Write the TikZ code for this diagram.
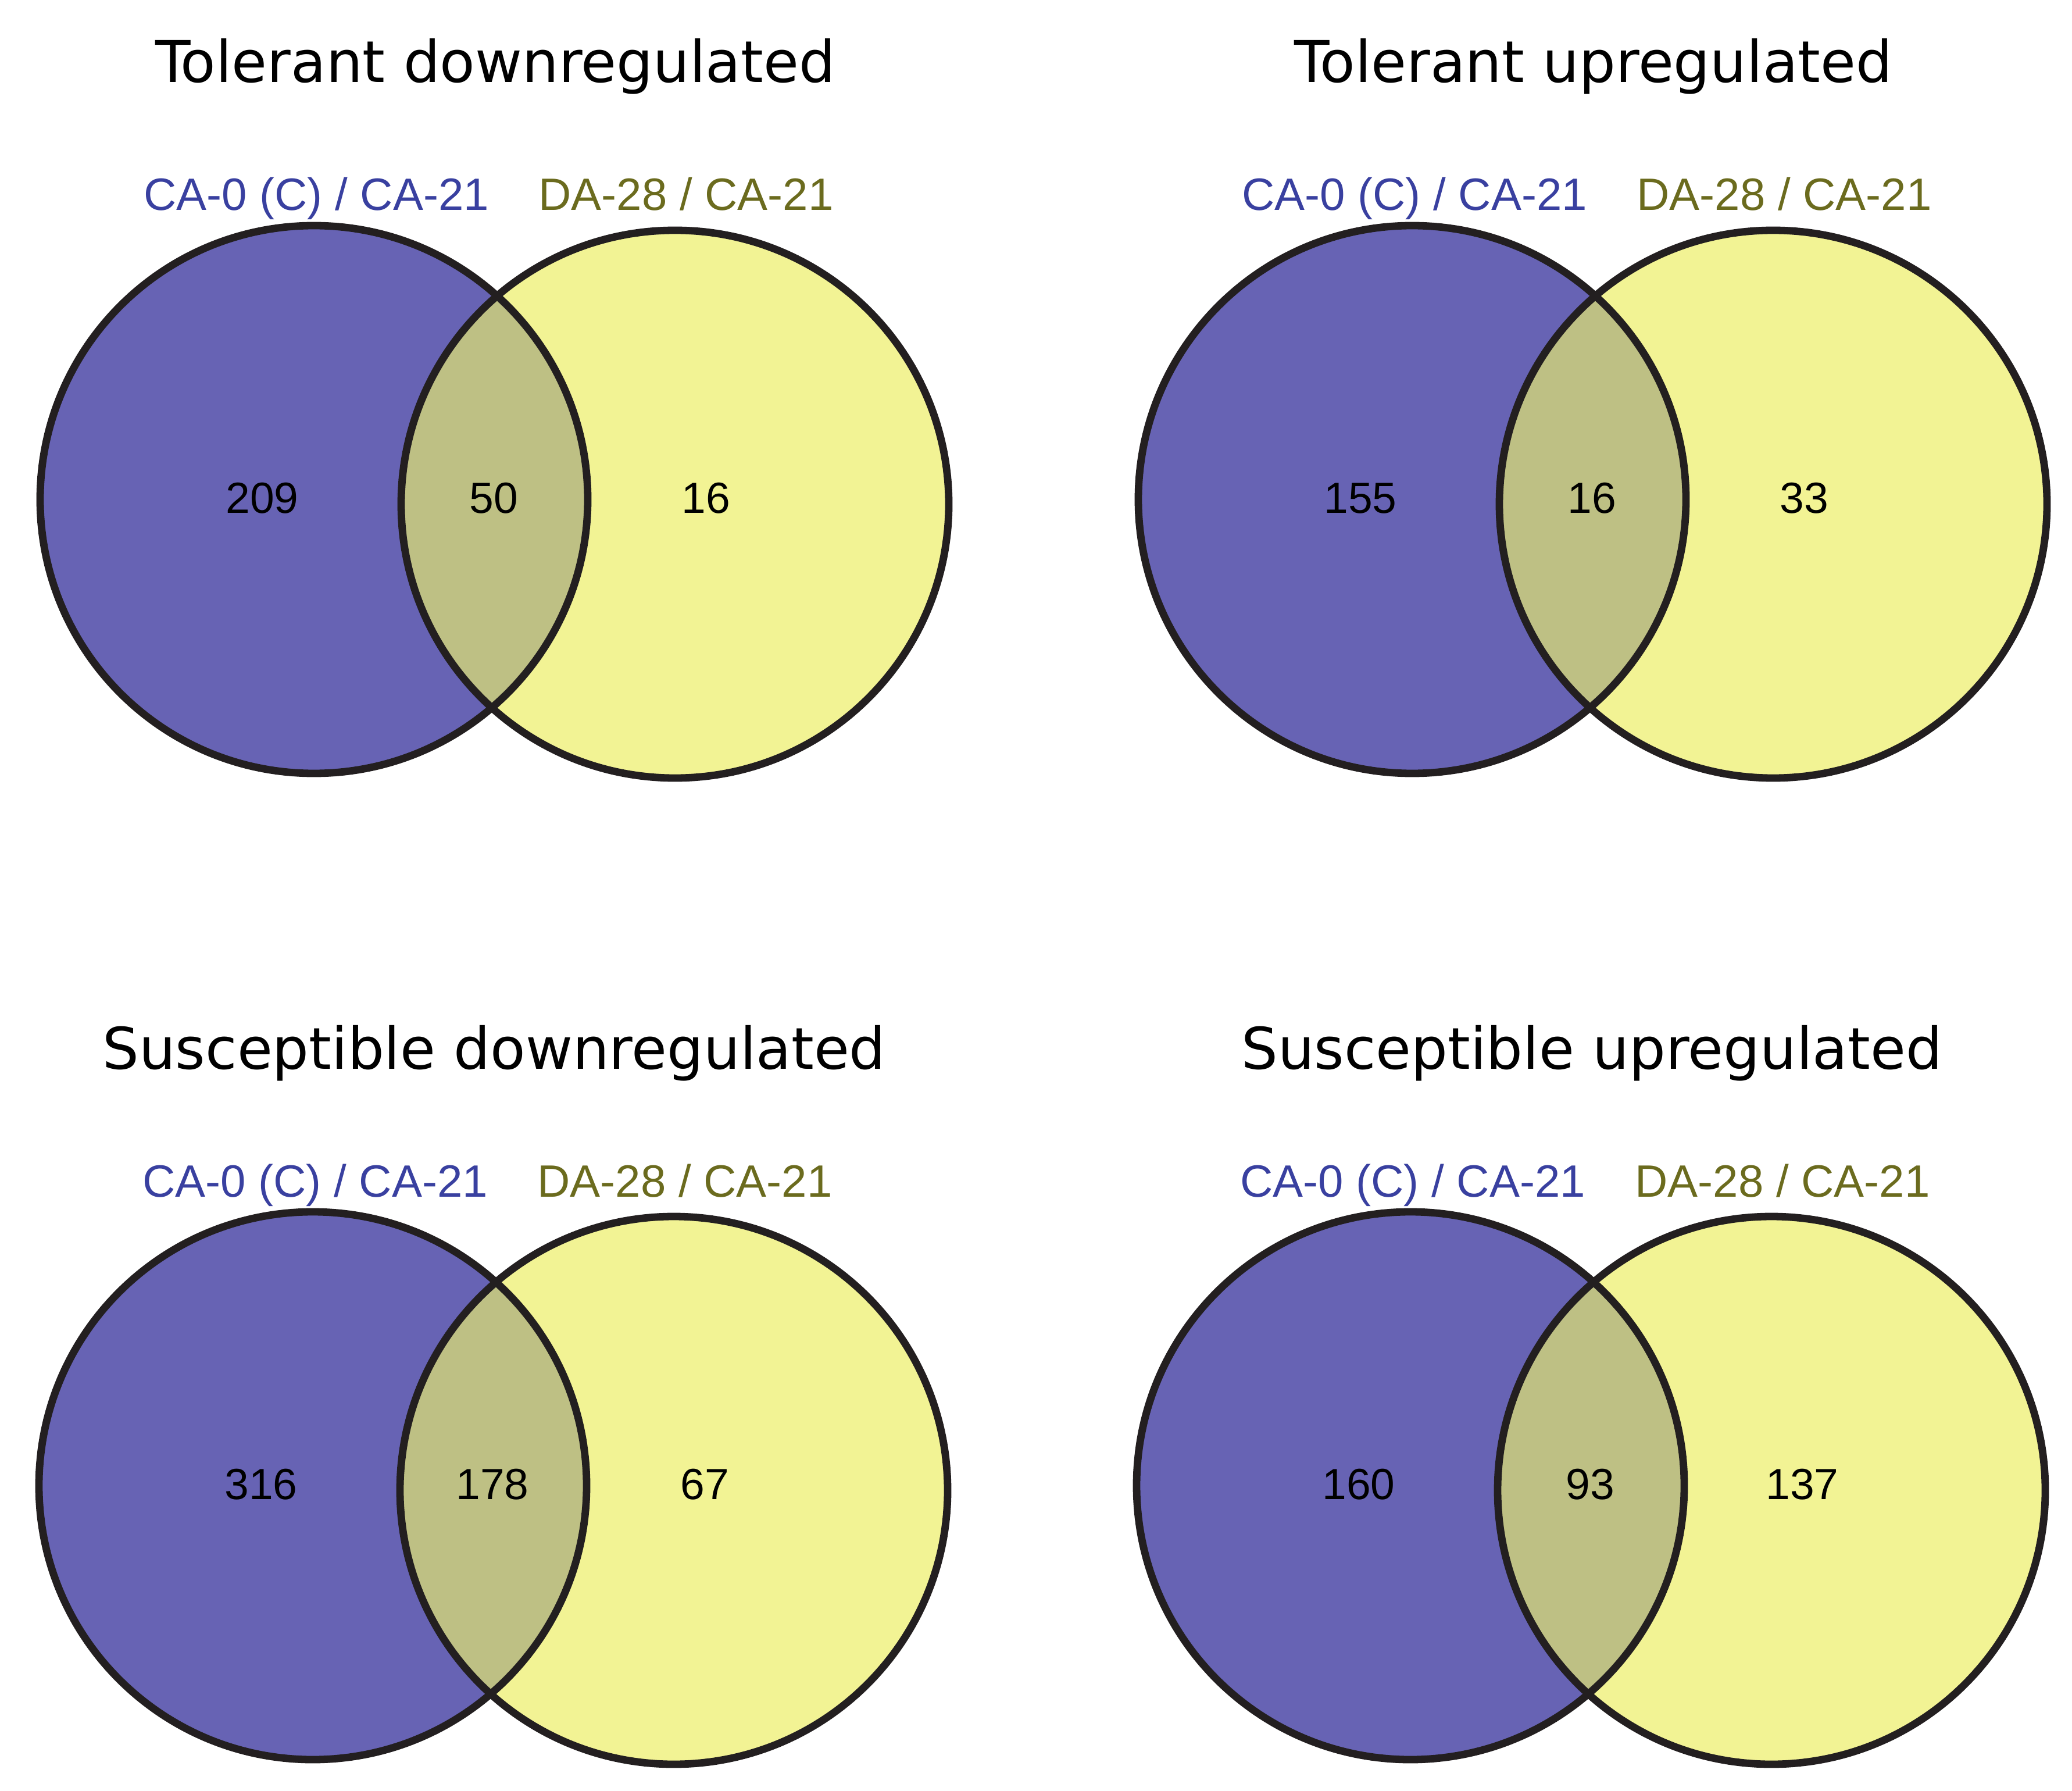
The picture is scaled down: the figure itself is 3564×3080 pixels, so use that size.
\documentclass[tikz,border=0pt]{standalone}
\usepackage{fontspec}
\setmainfont{Liberation Sans}
\newfontfamily\titlefont{DejaVu Sans}
\definecolor{setA}{RGB}{103,99,180}
\definecolor{setB}{RGB}{242,243,148}
\definecolor{setAB}{RGB}{190,192,132}
\definecolor{labA}{RGB}{57,64,160}
\definecolor{labB}{RGB}{107,107,30}
\definecolor{edgecol}{RGB}{35,31,32}
\tikzset{
  vedge/.style={draw=edgecol, line width=3.2pt},
  vtitle/.style={anchor=base, inner sep=0pt, font=\titlefont\fontsize{24.75pt}{28pt}\selectfont, text=black},
  vlabA/.style={anchor=base, inner sep=0pt, font=\fontsize{19.5pt}{22pt}\selectfont, text=labA},
  vlabB/.style={anchor=base, inner sep=0pt, font=\fontsize{19.5pt}{22pt}\selectfont, text=labB},
  vnum/.style={anchor=base, inner sep=0pt, font=\fontsize{18.75pt}{21pt}\selectfont, text=black},
}
\newcommand\vennradius{117.75pt}
\newcommand\vennpanel[7]{%
  \begin{scope}[shift={(#2,#3)}]
    \coordinate (#1-a) at (0,0);
    \coordinate (#1-b) at (621,8);
    \fill[setA] (#1-a) circle[radius=\vennradius];
    \fill[setB] (#1-b) circle[radius=\vennradius];
    \begin{scope}
      \clip (#1-a) circle[radius=\vennradius];
      \fill[setAB] (#1-b) circle[radius=\vennradius];
    \end{scope}
    \draw[vedge] (#1-a) circle[radius=\vennradius];
    \draw[vedge] (#1-b) circle[radius=\vennradius];
    \node[vtitle] (#1-title) at (312,-717) {#4};
    \node[vlabA] (#1-labA) at (4,-497) {CA-0 (C) / CA-21};
    \node[vlabB] (#1-labB) at (640,-497) {DA-28 / CA-21};
    \node[vnum] (#1-nA) at (-89,23) {#5};
    \node[vnum] (#1-nAB) at (309,23) {#6};
    \node[vnum] (#1-nB) at (674,23) {#7};
  \end{scope}}
\begin{document}
\begin{tikzpicture}[x=0.25pt,y=-0.25pt]
\useasboundingbox[fill=white] (0,0) rectangle (3564,3080);
\vennpanel{tl}{540}{859}{Tolerant downregulated}{209}{50}{16}
\vennpanel{tr}{2429}{859}{Tolerant upregulated}{155}{16}{33}
\vennpanel{bl}{538}{2555}{Susceptible downregulated}{316}{178}{67}
\vennpanel{br}{2426}{2555}{Susceptible upregulated}{160}{93}{137}
\end{tikzpicture}
\end{document}
